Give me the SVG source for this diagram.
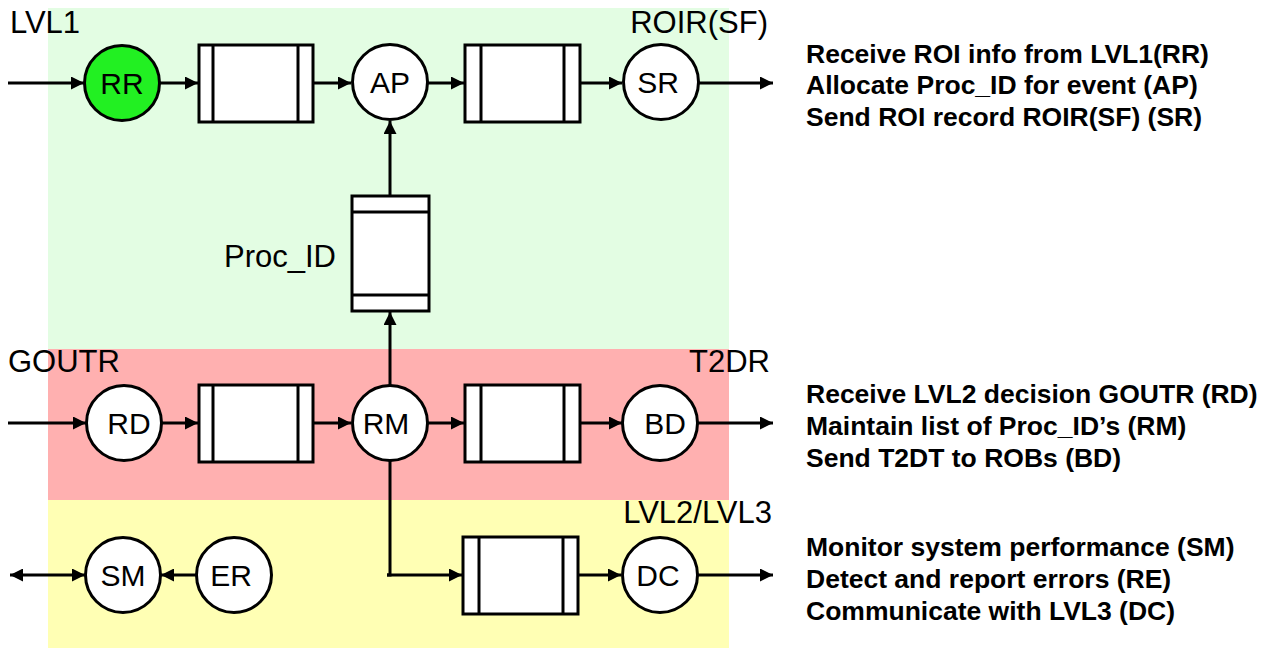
<svg xmlns="http://www.w3.org/2000/svg" width="1271" height="649" viewBox="0 0 1271 649">
  <style>
    .node circle { fill: #ffffff; stroke: #000000; stroke-width: 3; }
    .queue rect { fill: #ffffff; stroke: #000000; stroke-width: 3; }
    .queue line { stroke: #000000; stroke-width: 3; }
    .lbl { font-family: "Liberation Sans", Arial, sans-serif; font-size: 31px; fill: #000000; }
    .nlbl { font-family: "Liberation Sans", Arial, sans-serif; font-size: 30px; fill: #000000; text-anchor: middle; }
    .desc { font-family: "Liberation Sans", Arial, sans-serif; font-size: 26.5px; font-weight: bold; fill: #000000; }
    .conn line, .conn polyline { stroke: #000000; stroke-width: 3; fill: none; }
  </style>
  <defs>
    <marker id="arrow" viewBox="0 0 13 13" refX="13" refY="6.5" markerWidth="13" markerHeight="13" markerUnits="userSpaceOnUse" orient="auto">
      <path d="M0,0 L13,6.5 L0,13 Z" fill="#000000"/>
    </marker>
    <marker id="arrowStart" viewBox="0 0 13 13" refX="0" refY="6.5" markerWidth="13" markerHeight="13" markerUnits="userSpaceOnUse" orient="auto">
      <path d="M13,0 L0,6.5 L13,13 Z" fill="#000000"/>
    </marker>
  </defs>

  <!-- Background bands -->
  <g id="bands">
    <rect x="48" y="8" width="681" height="341" fill="#E3FDE3"/>
    <rect x="48" y="349" width="681" height="151" fill="#FFB0B0"/>
    <rect x="48" y="500" width="681" height="148" fill="#FFFFB4"/>
  </g>

  <!-- Connectors -->
  <g id="connectors" class="conn">
    <!-- top row -->
    <line x1="8" y1="83" x2="84" y2="83" marker-end="url(#arrow)"/>
    <line x1="160" y1="83" x2="198" y2="83" marker-end="url(#arrow)"/>
    <line x1="313" y1="83" x2="351" y2="83" marker-end="url(#arrow)"/>
    <line x1="428" y1="83" x2="464" y2="83" marker-end="url(#arrow)"/>
    <line x1="580" y1="83" x2="622" y2="83" marker-end="url(#arrow)"/>
    <line x1="699" y1="83" x2="773" y2="83" marker-end="url(#arrow)"/>
    <!-- Proc_ID feedback -->
    <line x1="390" y1="196" x2="390" y2="121" marker-end="url(#arrow)"/>
    <line x1="390" y1="385" x2="390" y2="312" marker-end="url(#arrow)"/>
    <!-- middle row -->
    <line x1="8" y1="423" x2="86" y2="423" marker-end="url(#arrow)"/>
    <line x1="162" y1="423" x2="198" y2="423" marker-end="url(#arrow)"/>
    <line x1="313" y1="423" x2="351" y2="423" marker-end="url(#arrow)"/>
    <line x1="428" y1="423" x2="464" y2="423" marker-end="url(#arrow)"/>
    <line x1="580" y1="423" x2="622" y2="423" marker-end="url(#arrow)"/>
    <line x1="698" y1="423" x2="773" y2="423" marker-end="url(#arrow)"/>
    <!-- RM down to the LVL2/LVL3 queue -->
    <polyline points="390,461 390,575 387,575"/>
    <line x1="387" y1="575" x2="462" y2="575" marker-end="url(#arrow)"/>
    <line x1="578" y1="575" x2="621" y2="575" marker-end="url(#arrow)"/>
    <line x1="698" y1="575" x2="773" y2="575" marker-end="url(#arrow)"/>
    <!-- bottom left -->
    <line x1="10" y1="575" x2="85" y2="575" marker-start="url(#arrowStart)" marker-end="url(#arrow)"/>
    <line x1="196" y1="575" x2="161" y2="575" marker-end="url(#arrow)"/>
  </g>

  <!-- Queues -->
  <g id="q1" class="queue">
    <rect x="199" y="45" width="114" height="77"/>
    <line x1="213" y1="45" x2="213" y2="122"/>
    <line x1="298" y1="45" x2="298" y2="122"/>
  </g>
  <g id="q2" class="queue">
    <rect x="465" y="45" width="115" height="77"/>
    <line x1="481" y1="45" x2="481" y2="122"/>
    <line x1="564" y1="45" x2="564" y2="122"/>
  </g>
  <g id="q-procid" class="queue">
    <rect x="352" y="196" width="77" height="115"/>
    <line x1="352" y1="212" x2="429" y2="212"/>
    <line x1="352" y1="295" x2="429" y2="295"/>
  </g>
  <g id="q3" class="queue">
    <rect x="199" y="385" width="114" height="77"/>
    <line x1="213" y1="385" x2="213" y2="462"/>
    <line x1="298" y1="385" x2="298" y2="462"/>
  </g>
  <g id="q4" class="queue">
    <rect x="465" y="385" width="115" height="77"/>
    <line x1="481" y1="385" x2="481" y2="462"/>
    <line x1="564" y1="385" x2="564" y2="462"/>
  </g>
  <g id="q5" class="queue">
    <rect x="463" y="537" width="115" height="77"/>
    <line x1="479" y1="537" x2="479" y2="614"/>
    <line x1="563" y1="537" x2="563" y2="614"/>
  </g>

  <!-- Process nodes -->
  <g id="RR" class="node">
    <circle cx="122" cy="83" r="37.5" style="fill:#22F022"/>
    <text class="nlbl" x="122" y="93.5">RR</text>
  </g>
  <g id="AP" class="node">
    <circle cx="390" cy="82" r="37.5"/>
    <text class="nlbl" x="390" y="92.5">AP</text>
  </g>
  <g id="SR" class="node">
    <circle cx="661" cy="82" r="37.5"/>
    <text class="nlbl" x="658" y="92.5">SR</text>
  </g>
  <g id="RD" class="node">
    <circle cx="124" cy="423" r="37.5"/>
    <text class="nlbl" x="129" y="433.5">RD</text>
  </g>
  <g id="RM" class="node">
    <circle cx="390" cy="423" r="37.5"/>
    <text class="nlbl" x="386" y="433.5">RM</text>
  </g>
  <g id="BD" class="node">
    <circle cx="660" cy="423" r="37.5"/>
    <text class="nlbl" x="665" y="433.5">BD</text>
  </g>
  <g id="SM" class="node">
    <circle cx="123" cy="575" r="37.5"/>
    <text class="nlbl" x="123" y="585.5">SM</text>
  </g>
  <g id="ER" class="node">
    <circle cx="234" cy="575" r="37.5"/>
    <text class="nlbl" x="231" y="585.5">ER</text>
  </g>
  <g id="DC" class="node">
    <circle cx="660" cy="575" r="37.5"/>
    <text class="nlbl" x="658" y="585.5">DC</text>
  </g>

  <!-- Signal labels -->
  <g id="labels">
    <text class="lbl" x="10" y="33">LVL1</text>
    <text class="lbl" x="768" y="33" text-anchor="end">ROIR(SF)</text>
    <text class="lbl" x="224" y="267">Proc_ID</text>
    <text class="lbl" x="8" y="372">GOUTR</text>
    <text class="lbl" x="770" y="372" text-anchor="end">T2DR</text>
    <text class="lbl" x="772" y="523" text-anchor="end">LVL2/LVL3</text>
  </g>

  <!-- Function descriptions -->
  <g id="desc-top">
    <text class="desc" x="806" y="63">Receive ROI info from LVL1(RR)</text>
    <text class="desc" x="806" y="94">Allocate Proc_ID for event (AP)</text>
    <text class="desc" x="806" y="126">Send ROI record ROIR(SF) (SR)</text>
  </g>
  <g id="desc-mid">
    <text class="desc" x="806" y="403">Receive LVL2 decision GOUTR (RD)</text>
    <text class="desc" x="806" y="435">Maintain list of Proc_ID’s (RM)</text>
    <text class="desc" x="806" y="467">Send T2DT to ROBs (BD)</text>
  </g>
  <g id="desc-bottom">
    <text class="desc" x="806" y="556">Monitor system performance (SM)</text>
    <text class="desc" x="806" y="588">Detect and report errors (RE)</text>
    <text class="desc" x="806" y="620">Communicate with LVL3 (DC)</text>
  </g>
</svg>
